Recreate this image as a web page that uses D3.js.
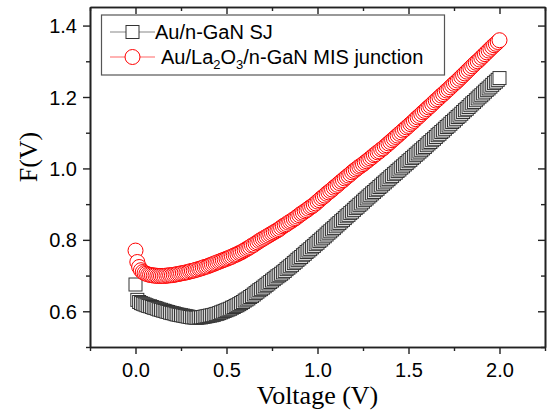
<!DOCTYPE html>
<html>
<head>
<meta charset="utf-8">
<script src="https://cdn.jsdelivr.net/npm/d3@7"></script>
<style>
  body { margin: 0; background: #fff; }
  svg { display: block; }
</style>
</head>
<body>
<svg id="chart" width="554" height="413"></svg>
<script>
// bias voltage (V), 0.01 V steps
const voltage = [
  0.00, 0.01, 0.02, 0.03, 0.04, 0.05, 0.06, 0.07, 0.08, 0.09,
  0.10, 0.11, 0.12, 0.13, 0.14, 0.15, 0.16, 0.17, 0.18, 0.19,
  0.20, 0.21, 0.22, 0.23, 0.24, 0.25, 0.26, 0.27, 0.28, 0.29,
  0.30, 0.31, 0.32, 0.33, 0.34, 0.35, 0.36, 0.37, 0.38, 0.39,
  0.40, 0.41, 0.42, 0.43, 0.44, 0.45, 0.46, 0.47, 0.48, 0.49,
  0.50, 0.51, 0.52, 0.53, 0.54, 0.55, 0.56, 0.57, 0.58, 0.59,
  0.60, 0.61, 0.62, 0.63, 0.64, 0.65, 0.66, 0.67, 0.68, 0.69,
  0.70, 0.71, 0.72, 0.73, 0.74, 0.75, 0.76, 0.77, 0.78, 0.79,
  0.80, 0.81, 0.82, 0.83, 0.84, 0.85, 0.86, 0.87, 0.88, 0.89,
  0.90, 0.91, 0.92, 0.93, 0.94, 0.95, 0.96, 0.97, 0.98, 0.99,
  1.00, 1.01, 1.02, 1.03, 1.04, 1.05, 1.06, 1.07, 1.08, 1.09,
  1.10, 1.11, 1.12, 1.13, 1.14, 1.15, 1.16, 1.17, 1.18, 1.19,
  1.20, 1.21, 1.22, 1.23, 1.24, 1.25, 1.26, 1.27, 1.28, 1.29,
  1.30, 1.31, 1.32, 1.33, 1.34, 1.35, 1.36, 1.37, 1.38, 1.39,
  1.40, 1.41, 1.42, 1.43, 1.44, 1.45, 1.46, 1.47, 1.48, 1.49,
  1.50, 1.51, 1.52, 1.53, 1.54, 1.55, 1.56, 1.57, 1.58, 1.59,
  1.60, 1.61, 1.62, 1.63, 1.64, 1.65, 1.66, 1.67, 1.68, 1.69,
  1.70, 1.71, 1.72, 1.73, 1.74, 1.75, 1.76, 1.77, 1.78, 1.79,
  1.80, 1.81, 1.82, 1.83, 1.84, 1.85, 1.86, 1.87, 1.88, 1.89,
  1.90, 1.91, 1.92, 1.93, 1.94, 1.95, 1.96, 1.97, 1.98, 1.99,
  2.00,
];

// F(V) for Au/n-GaN SJ (black squares)
const fSJ = [
  0.675, 0.632, 0.626, 0.623, 0.621, 0.619, 0.617, 0.615, 0.614, 0.612,
  0.610, 0.609, 0.607, 0.605, 0.604, 0.602, 0.601, 0.599, 0.598, 0.596,
  0.595, 0.594, 0.592, 0.591, 0.590, 0.589, 0.588, 0.587, 0.586, 0.585,
  0.584, 0.583, 0.583, 0.582, 0.582, 0.583, 0.583, 0.584, 0.585, 0.586,
  0.587, 0.588, 0.589, 0.590, 0.592, 0.593, 0.595, 0.597, 0.599, 0.601,
  0.603, 0.605, 0.607, 0.610, 0.612, 0.615, 0.617, 0.620, 0.623, 0.626,
  0.630, 0.633, 0.636, 0.640, 0.643, 0.647, 0.651, 0.655, 0.659, 0.662,
  0.666, 0.670, 0.674, 0.678, 0.682, 0.686, 0.690, 0.694, 0.698, 0.701,
  0.705, 0.709, 0.713, 0.718, 0.722, 0.726, 0.730, 0.735, 0.739, 0.744,
  0.748, 0.752, 0.757, 0.761, 0.766, 0.770, 0.774, 0.779, 0.783, 0.788,
  0.792, 0.797, 0.801, 0.806, 0.810, 0.815, 0.820, 0.824, 0.829, 0.833,
  0.838, 0.843, 0.847, 0.852, 0.856, 0.861, 0.866, 0.870, 0.875, 0.879,
  0.884, 0.889, 0.893, 0.898, 0.902, 0.907, 0.912, 0.916, 0.921, 0.925,
  0.930, 0.934, 0.939, 0.943, 0.948, 0.952, 0.957, 0.961, 0.966, 0.970,
  0.975, 0.979, 0.984, 0.988, 0.993, 0.997, 1.002, 1.006, 1.011, 1.015,
  1.020, 1.024, 1.029, 1.033, 1.038, 1.042, 1.047, 1.051, 1.056, 1.060,
  1.065, 1.070, 1.074, 1.079, 1.083, 1.088, 1.093, 1.097, 1.102, 1.106,
  1.111, 1.116, 1.120, 1.125, 1.130, 1.134, 1.139, 1.144, 1.148, 1.153,
  1.158, 1.163, 1.167, 1.172, 1.177, 1.182, 1.186, 1.191, 1.196, 1.201,
  1.205, 1.210, 1.215, 1.220, 1.224, 1.229, 1.234, 1.239, 1.243, 1.248,
  1.253,
];

// F(V) for Au/La2O3/n-GaN MIS junction (red circles)
const fMIS = [
  0.770, 0.738, 0.724, 0.715, 0.710, 0.707, 0.705, 0.703, 0.702, 0.701,
  0.700, 0.700, 0.699, 0.699, 0.699, 0.699, 0.699, 0.700, 0.700, 0.701,
  0.701, 0.702, 0.703, 0.704, 0.705, 0.706, 0.707, 0.708, 0.709, 0.710,
  0.712, 0.713, 0.714, 0.716, 0.717, 0.719, 0.720, 0.722, 0.724, 0.725,
  0.727, 0.729, 0.731, 0.733, 0.735, 0.737, 0.739, 0.741, 0.743, 0.745,
  0.747, 0.749, 0.751, 0.753, 0.756, 0.758, 0.760, 0.763, 0.765, 0.768,
  0.771, 0.774, 0.777, 0.780, 0.784, 0.786, 0.790, 0.793, 0.797, 0.800,
  0.803, 0.806, 0.809, 0.812, 0.815, 0.818, 0.821, 0.824, 0.827, 0.830,
  0.834, 0.838, 0.841, 0.844, 0.848, 0.851, 0.854, 0.858, 0.861, 0.865,
  0.869, 0.873, 0.876, 0.880, 0.883, 0.887, 0.891, 0.894, 0.898, 0.902,
  0.907, 0.911, 0.916, 0.920, 0.924, 0.929, 0.933, 0.937, 0.941, 0.946,
  0.950, 0.954, 0.959, 0.963, 0.967, 0.972, 0.976, 0.980, 0.984, 0.989,
  0.993, 0.997, 1.001, 1.005, 1.008, 1.012, 1.016, 1.020, 1.024, 1.028,
  1.032, 1.037, 1.040, 1.045, 1.048, 1.053, 1.056, 1.061, 1.065, 1.070,
  1.074, 1.079, 1.083, 1.088, 1.092, 1.097, 1.101, 1.106, 1.110, 1.115,
  1.119, 1.124, 1.128, 1.133, 1.138, 1.143, 1.147, 1.152, 1.157, 1.161,
  1.166, 1.171, 1.175, 1.180, 1.185, 1.190, 1.194, 1.199, 1.204, 1.208,
  1.213, 1.218, 1.222, 1.227, 1.232, 1.237, 1.241, 1.246, 1.251, 1.256,
  1.261, 1.266, 1.271, 1.276, 1.281, 1.286, 1.291, 1.296, 1.300, 1.305,
  1.310, 1.315, 1.320, 1.325, 1.330, 1.335, 1.340, 1.345, 1.349, 1.354,
  1.359,
];

const xMajorTicks = [0, 0.5, 1.0, 1.5, 2.0];
const xMinorTicks = [-0.25, 0.25, 0.75, 1.25, 1.75, 2.25];
const yMajorTicks = [0.6, 0.8, 1.0, 1.2, 1.4];
const yMinorTicks = [0.5, 0.7, 0.9, 1.1, 1.3];

const width = 554;
const height = 413;
const margin = { top: 7, right: 9, bottom: 66, left: 90 };

const svg = d3.select('#chart');

const x = d3.scaleLinear()
  .domain([-0.25, 2.25])
  .range([margin.left, width - margin.right]);

const y = d3.scaleLinear()
  .domain([0.5, 1.452])
  .range([height - margin.bottom, margin.top]);

const axisColor = '#222';
const fmt = d3.format('.1f');

// frame + ticks: bottom/left point out, top/right point in
const addAxis = (axisFn, scale, ticks, size, transform, labels) => {
  const g = svg.append('g')
    .attr('transform', transform)
    .call(axisFn(scale).tickValues(ticks).tickSize(size).tickSizeOuter(0)
      .tickPadding(6).tickFormat(labels ? fmt : ''));
  g.select('.domain').attr('stroke', axisColor).attr('stroke-width', 1.6);
  g.selectAll('.tick line').attr('stroke', axisColor).attr('stroke-width', 1.4);
  g.selectAll('.tick text')
    .attr('fill', '#000')
    .style('font-family', 'Liberation Sans, Arial, sans-serif')
    .style('font-size', '20px');
  return g;
};

const bottomY = height - margin.bottom;
const rightX = width - margin.right;

const xAxisG = addAxis(d3.axisBottom, x, xMajorTicks, 7, `translate(0,${bottomY})`, true);
addAxis(d3.axisBottom, x, xMinorTicks, 4, `translate(0,${bottomY})`, false);
addAxis(d3.axisTop, x, xMajorTicks, -7, `translate(0,${margin.top})`, false);
addAxis(d3.axisTop, x, xMinorTicks, -4, `translate(0,${margin.top})`, false);
const yAxisG = addAxis(d3.axisLeft, y, yMajorTicks, 7, `translate(${margin.left},0)`, true);
addAxis(d3.axisLeft, y, yMinorTicks, 4, `translate(${margin.left},0)`, false);
addAxis(d3.axisRight, y, yMajorTicks, -7, `translate(${rightX},0)`, false);
addAxis(d3.axisRight, y, yMinorTicks, -4, `translate(${rightX},0)`, false);

xAxisG.selectAll('.tick text').attr('dy', null).attr('y', 30);
yAxisG.selectAll('.tick text').attr('x', -13).attr('dy', '0.35em');

// axis titles (serif, as in the original)
svg.append('text')
  .attr('x', (margin.left + rightX) / 2)
  .attr('y', 404)
  .attr('text-anchor', 'middle')
  .style('font-family', 'Liberation Serif, Times New Roman, serif')
  .style('font-size', '26px')
  .text('Voltage (V)');

svg.append('text')
  .attr('transform', 'translate(37,157) rotate(-90)')
  .attr('text-anchor', 'middle')
  .style('font-family', 'Liberation Serif, Times New Roman, serif')
  .style('font-size', '26px')
  .text('F(V)');

const sqSize = 13;
const circR = 7.5;
const sqStroke = '#333';
const circStroke = '#ff0000';

const plot = svg.append('g');

// open squares, white fill so later points overlap earlier ones
plot.selectAll('rect.sj')
  .data(voltage)
  .join('rect')
  .attr('class', 'sj')
  .attr('x', (d) => x(d) - sqSize / 2)
  .attr('y', (d, i) => y(fSJ[i]) - sqSize / 2)
  .attr('width', sqSize)
  .attr('height', sqSize)
  .attr('fill', '#fff')
  .attr('stroke', sqStroke)
  .attr('stroke-width', 1);

plot.selectAll('circle.mis')
  .data(voltage)
  .join('circle')
  .attr('class', 'mis')
  .attr('cx', (d) => x(d))
  .attr('cy', (d, i) => y(fMIS[i]))
  .attr('r', circR)
  .attr('fill', '#fff')
  .attr('stroke', circStroke)
  .attr('stroke-width', 1);

// legend
const legend = svg.append('g');
legend.append('rect')
  .attr('x', 101.5)
  .attr('y', 15)
  .attr('width', 343)
  .attr('height', 60)
  .attr('fill', '#fff')
  .attr('stroke', '#555')
  .attr('stroke-width', 1.2);

const legendFont = 'Liberation Sans, Arial, sans-serif';

// row 1
legend.append('line')
  .attr('x1', 110).attr('x2', 155).attr('y1', 32).attr('y2', 32)
  .attr('stroke', '#888').attr('stroke-width', 1.2);
legend.append('rect')
  .attr('x', 132.5 - sqSize / 2).attr('y', 32 - sqSize / 2)
  .attr('width', sqSize).attr('height', sqSize)
  .attr('fill', '#fff').attr('stroke', sqStroke);
legend.append('text')
  .attr('x', 155).attr('y', 39)
  .style('font-family', legendFont)
  .style('font-size', '20px')
  .text('Au/n-GaN SJ');

// row 2
legend.append('line')
  .attr('x1', 110).attr('x2', 155).attr('y1', 57).attr('y2', 57)
  .attr('stroke', '#ff6666').attr('stroke-width', 1.2);
legend.append('circle')
  .attr('cx', 132.5).attr('cy', 57).attr('r', circR)
  .attr('fill', '#fff').attr('stroke', circStroke);
const t2 = legend.append('text')
  .attr('x', 161).attr('y', 64)
  .style('font-family', legendFont)
  .style('font-size', '20px');
t2.append('tspan').text('Au/La');
t2.append('tspan').attr('dy', 5).style('font-size', '13px').text('2');
t2.append('tspan').attr('dy', -5).text('O');
t2.append('tspan').attr('dy', 5).style('font-size', '13px').text('3');
t2.append('tspan').attr('dy', -5).text('/n-GaN MIS junction');
</script>
</body>
</html>
